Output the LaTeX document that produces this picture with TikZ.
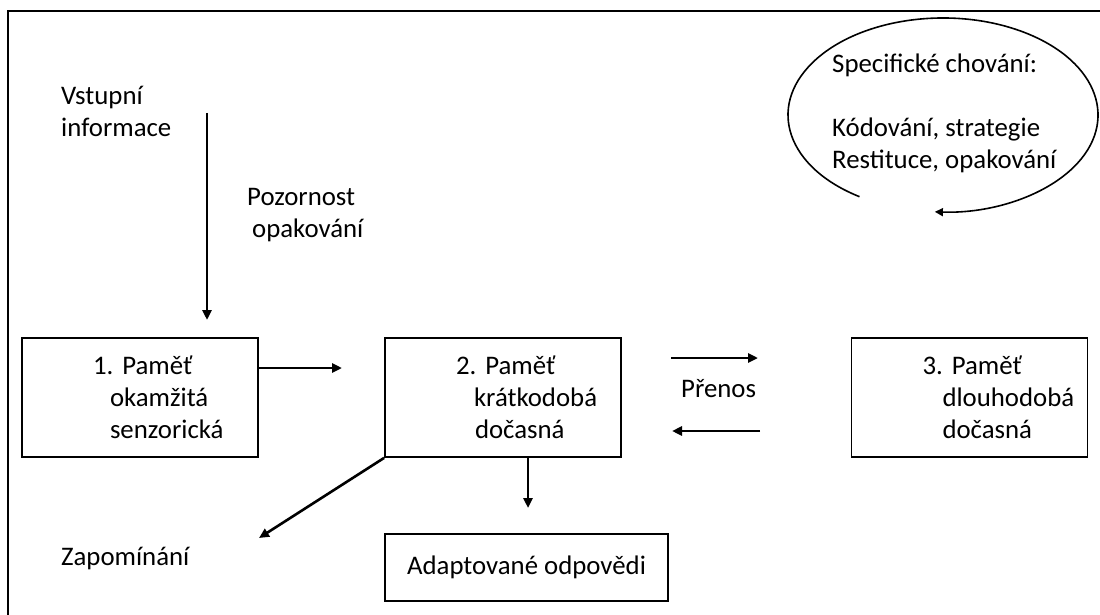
\documentclass[tikz,border=0pt]{standalone}
\usepackage{fontspec}
\setmainfont{Carlito}
\frenchspacing
\usetikzlibrary{arrows.meta,positioning}
\tikzset{
  membox/.style={draw, line width=1.8pt, minimum height=119pt, text width=94pt,
    inner xsep=71pt, inner ysep=0pt, align=left},
  lbl/.style={anchor=base west, inner sep=0pt, align=left},
  arr/.style={line width=2.6pt, -{Triangle[length=10pt,width=9pt]}},
  thinarr/.style={line width=1.6pt, -{Triangle[length=8pt,width=8pt]}}
}

\begin{document}
\begin{tikzpicture}[x=1pt, y=-1pt, font=\fontsize{26.8}{32}\selectfont]
        \useasboundingbox (0,0) rectangle (1100,615);
        \draw [line width=1.6pt] (8,11) rectangle (1130,650);
        \node [membox] (sens) at (140,397.5) {\mbox{1. Paměť}\\\mbox{\hspace*{17pt}okamžitá}\\\mbox{\hspace*{17pt}senzorická}};
        \node [membox] (short) at (503,397.5) {\mbox{2. Paměť}\\\mbox{\hspace*{18pt}krátkodobá}\\\mbox{\hspace*{19pt}dočasná}};
        \node [membox] (long) at (969.5,397.5) {\mbox{3. Paměť}\\\mbox{\hspace*{20pt}dlouhodobá}\\\mbox{\hspace*{20pt}dočasná}};
        \node [draw, line width=1.8pt, minimum width=283pt, minimum height=67pt, inner sep=0pt] (adapt) at (526.5,567.5) {Adaptované odpovědi};
        \node [lbl] (input) at (61,136) {Vstupní\\informace};
        \node [lbl] (attn) at (247,237) {Pozornost\\\hspace*{5pt}opakování};
        \node [lbl] (transfer) at (681,397) {Přenos};
        \node [lbl] (forget) at (61,565) {Zapomínání};
        \node [lbl] (strat) at (832,168) {Specifické chování:\\[32pt]Kódování, strategie\\Restituce, opakování};
        \coordinate (inTop) at (207,113);
        \coordinate (inEnd) at (207,320);
        \coordinate (toShort) at (342,368);
        \coordinate (fwdA) at (671,358);
        \coordinate (fwdB) at (758,358);
        \coordinate (backA) at (760,431);
        \coordinate (backB) at (672,431);
        \coordinate (outEnd) at (528,508);
        \coordinate (forgetEnd) at (259,538);
        \coordinate (loopStart) at (859.5,196.7);
        \draw [arr] (inTop) -- (inEnd);
        \draw [arr] (sens.east |- toShort) -- (toShort);
        \draw [arr] (fwdA) -- (fwdB);
        \draw [arr] (backA) -- (backB);
        \draw [arr] (short.south -| outEnd) -- (outEnd);
        \draw [arr] (short.south west) -- (forgetEnd);
        \draw [thinarr] (loopStart) arc [start angle=237.4, end angle=-93, x radius=155pt, y radius=97pt];
    \end{tikzpicture}
\end{document}
